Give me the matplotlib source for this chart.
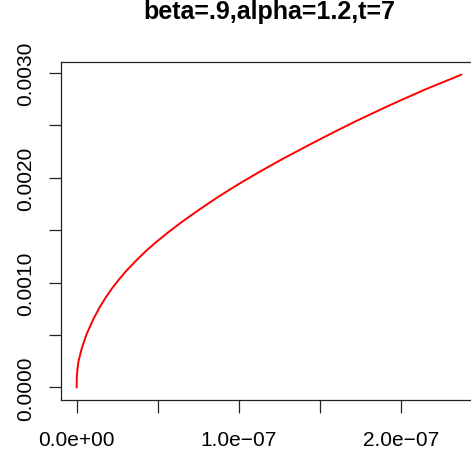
import matplotlib
matplotlib.use("Agg")
import matplotlib.pyplot as plt

x_vals = [0.0, 1e-10, 9.9e-10, 3.09e-9, 6.17e-9, 1.025e-8, 1.40e-8, 1.75e-8, 2.16e-8,
          2.60e-8, 3.10e-8, 3.70e-8, 4.30e-8, 4.90e-8, 5.60e-8, 6.50e-8, 7.60e-8,
          8.80e-8, 1.00e-7, 1.13e-7, 1.265e-7, 1.42e-7, 1.575e-7, 1.728e-7,
          1.934e-7, 2.140e-7, 2.370e-7]
y_vals = [0.0, 0.00011, 0.00024, 0.00037, 0.00051, 0.00065, 0.000759, 0.000848,
          0.000940, 0.001028, 0.001118, 0.001215, 0.001305, 0.001386, 0.001474,
          0.001580, 0.001701, 0.001825, 0.001941, 0.002059, 0.002176, 0.002303,
          0.002427, 0.002545, 0.002695, 0.002837, 0.002983]

title = "beta=.9,alpha=1.2,t=7"
xticks = [0.0, 5e-8, 1e-7, 1.5e-7, 2e-7]
xlabels = ["0.0e+00", "", "1.0e\u221207", "", "2.0e\u221207"]
yticks = [0.0, 0.0005, 0.0010, 0.0015, 0.0020, 0.0025, 0.0030]
ylabels = ["0.0000", "", "0.0010", "", "0.0020", "", "0.0030"]

plt.rcParams['font.family'] = ['Liberation Sans', 'DejaVu Sans']
W, H = 471, 456
fig = plt.figure(figsize=(W / 100, H / 100), dpi=100)
left, right, bottom, top = 61.3, 476.6, 400.8, 63.2
ax = fig.add_axes([left / W, 1 - bottom / H, (right - left) / W, (bottom - top) / H])
ax.plot(x_vals, y_vals, color='red', linewidth=1.4, solid_joinstyle='round')

xmax = max(x_vals); ymax = max(y_vals)
ax.set_xlim(-0.04 * xmax, xmax * 1.04)
ax.set_ylim(-0.04 * ymax, ymax * 1.04)
ax.set_xticks(xticks)
ax.set_xticklabels(xlabels)
ax.set_yticks(yticks)
ax.set_yticklabels(ylabels, rotation=90, va='center')
ax.tick_params(axis='both', length=9, width=0.9, labelsize=15, color='#222222')
ax.tick_params(axis='x', pad=13)
ax.tick_params(axis='y', pad=10)
for s in ax.spines.values():
    s.set_linewidth(0.9)
    s.set_color('#222222')
fig.text(269 / W, 1 - 19 / H, title, ha='center', va='baseline', fontsize=18, fontweight='bold')
fig.savefig("out.png", dpi=100)
